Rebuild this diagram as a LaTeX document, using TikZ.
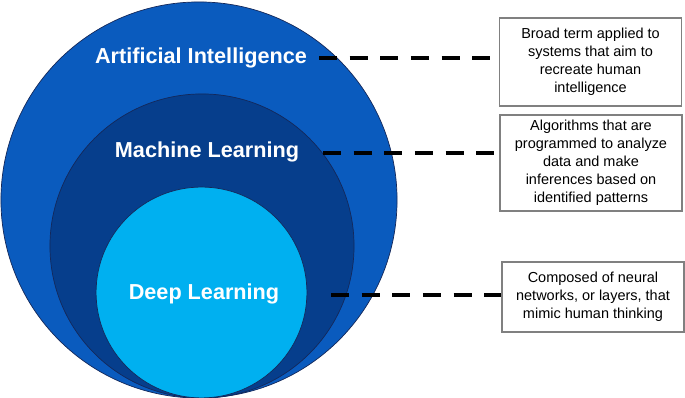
\documentclass[tikz,border=0pt]{standalone}
\usepackage{fontspec}
\setmainfont{Liberation Sans}
\usepackage{xcolor}
\usetikzlibrary{positioning}

\definecolor{aiblue}{RGB}{10,91,190}
\definecolor{mlblue}{RGB}{6,62,140}
\definecolor{dlblue}{RGB}{0,176,240}
\definecolor{rimblue}{RGB}{20,40,90}

\begin{document}
\begin{tikzpicture}[x=0.025cm, y=0.025cm,
		ring/.style={draw=rimblue, circle, line width=0.5pt, inner sep=0pt},
		title/.style={text=white, font=\bfseries\fontsize{15.4}{18}\selectfont},
		note/.style={draw=gray, line width=0.8pt, align=center, inner sep=0pt, minimum width=4.55cm, font=\fontsize{10.3}{12.8}\selectfont},
		link/.style={line width=2.8pt, dash pattern=on 12.8pt off 9pt}]
		\useasboundingbox (0,0) rectangle (685,398);

		% nested circles
		\node[ring, fill=aiblue, minimum size=9.9cm] (aic) at (199,198) {};
		\node[ring, fill=mlblue, minimum size=7.6cm] (mlc) at (202,152) {};
		\node[ring, fill=dlblue, minimum size=5.27cm] (dlc) at (201.5,105.5) {};

		\node[title] (ai) at (201,340) {Artificial Intelligence};
		\node[title] (ml) at (207,246) {Machine Learning};
		\node[title] (dl) at (204,104) {Deep Learning};

		% descriptions
		\node[note, minimum height=2.2cm] (aibox) at (590.5,336) {Broad term applied to\\systems that aim to\\recreate human\\intelligence};
		\node[note, minimum height=2.4cm] (mlbox) at (591,235) {Algorithms that are\\programmed to analyze\\data and make\\inferences based on\\identified patterns};
		\node[note, minimum height=1.75cm] (dlbox) at (593,101) {Composed of neural\\networks, or layers, that\\mimic human thinking};

		\coordinate (ais) at (319,340);
		\coordinate (mls) at (323,245);
		\coordinate (dls) at (331,103);
		\draw[link] (ais) -- (ais -| aibox.west);
		\draw[link] (mls) -- (mls -| mlbox.west);
		\draw[link] (dls) -- (dls -| dlbox.west);
	\end{tikzpicture}
\end{document}
